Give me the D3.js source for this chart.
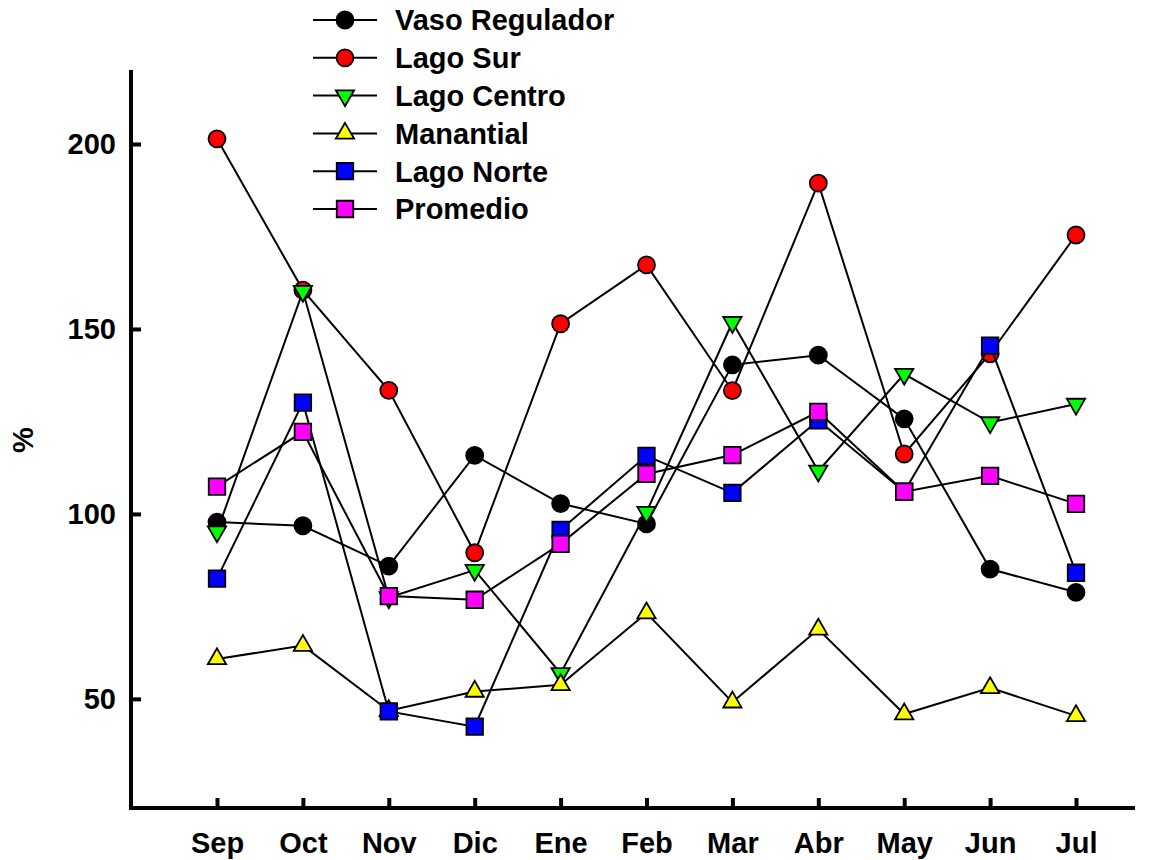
<!DOCTYPE html>
<html>
<head>
<meta charset="utf-8">
<script src="https://cdn.jsdelivr.net/npm/d3@7/dist/d3.min.js"></script>
<style>
  html, body { margin: 0; padding: 0; background: #fff; }
  text { font-family: "Liberation Sans", Arial, sans-serif; font-weight: bold; }
</style>
</head>
<body>
<svg id="chart" width="1157" height="860"></svg>
<script>
const months = ["Sep","Oct","Nov","Dic","Ene","Feb","Mar","Abr","May","Jun","Jul"];
const seriesNames = ["Vaso Regulador","Lago Sur","Lago Centro","Manantial","Lago Norte","Promedio"];
const vasoRegulador = [97.8, 96.8, 85.9, 115.8, 102.8, 97.3, 140.3, 142.9, 125.7, 85.1, 78.8];
const lagoSur       = [201.4, 160.5, 133.4, 89.5, 151.4, 167.3, 133.3, 189.4, 116.2, 143.3, 175.4];
const lagoCentro    = [95.2, 160.2, 77.4, 84.8, 56.9, 100.5, 151.8, 111.6, 137.8, 124.7, 129.7];
const manantial     = [60.8, 64.4, 46.8, 52.0, 53.8, 73.2, 49.1, 68.8, 45.9, 53.0, 45.4];
const lagoNorte     = [82.5, 130.1, 46.6, 42.5, 95.7, 115.7, 105.7, 125.3, 106.0, 145.5, 84.1];
const promedio      = [107.4, 122.2, 77.8, 76.8, 91.9, 110.8, 115.9, 127.6, 106.0, 110.3, 102.7];
const yTicks = [50, 100, 150, 200];
const yLabel = "%";

const seriesValues = [vasoRegulador, lagoSur, lagoCentro, manantial, lagoNorte, promedio];
const colors = ["#000000", "#ff0000", "#00ff00", "#ffff00", "#0000ff", "#ff00ff"];
const shapes = ["circle", "circle", "down", "up", "square", "square"];

const svg = d3.select("#chart");
const FS = 29;

const x = d3.scalePoint().domain(months).range([217, 1076]);
const y = d3.scaleLinear().domain([20.5, 220]).range([808, 70]);
const axisLeftX = 131, axisRightX = 1135;

function symbolPath(shape) {
  if (shape === "circle") return d3.symbol().type(d3.symbolCircle).size(Math.PI * 8.5 * 8.5)();
  if (shape === "square") return d3.symbol().type(d3.symbolSquare).size(16.5 * 16.5)();
  return d3.symbol().type(d3.symbolTriangle).size(145)();
}
function symbolTransform(shape, px, py) {
  return shape === "down" ? `translate(${px},${py}) rotate(180)` : `translate(${px},${py})`;
}

// Axes
const xAxis = d3.axisBottom(x).tickSizeInner(-10).tickSizeOuter(0).tickPadding(24);
const gx = svg.append("g").attr("transform", "translate(0,808)").call(xAxis);
gx.select(".domain").attr("d", `M${axisLeftX},0H${axisRightX}`);
gx.selectAll("path, line").attr("stroke", "#000").attr("stroke-width", 4);
gx.selectAll("text").attr("font-size", FS).attr("fill", "#000").attr("dy", "0.71em");

const yAxis = d3.axisLeft(y).tickValues(yTicks).tickSizeInner(-10).tickSizeOuter(0).tickPadding(15);
const gy = svg.append("g").attr("transform", `translate(${axisLeftX},0)`).call(yAxis);
gy.select(".domain").attr("d", `M0,${y.range()[1]}V${y.range()[0] + 2}`);
gy.selectAll("path, line").attr("stroke", "#000").attr("stroke-width", 4);
gy.selectAll("text").attr("font-size", FS).attr("fill", "#000");

svg.append("text")
  .attr("transform", "translate(33,440) rotate(-90)")
  .attr("text-anchor", "middle")
  .attr("font-size", FS)
  .attr("fill", "#000")
  .text(yLabel);

// Series
const line = d3.line().x((d, i) => x(months[i])).y(d => y(d));
seriesValues.forEach((vals, si) => {
  const g = svg.append("g");
  g.append("path").attr("d", line(vals)).attr("fill", "none")
    .attr("stroke", "#000").attr("stroke-width", 2);
  g.selectAll("path.m").data(vals).enter().append("path").attr("class", "m")
    .attr("d", symbolPath(shapes[si]))
    .attr("transform", (d, i) => symbolTransform(shapes[si], x(months[i]), y(d)))
    .attr("fill", colors[si]).attr("stroke", "#000").attr("stroke-width", 1.8);
});

// Legend
const legendY0 = 20, legendStep = 37.8;
seriesNames.forEach((name, si) => {
  const ly = legendY0 + si * legendStep;
  const g = svg.append("g");
  g.append("line").attr("x1", 313).attr("x2", 377).attr("y1", ly).attr("y2", ly)
    .attr("stroke", "#000").attr("stroke-width", 2);
  g.append("path").attr("d", symbolPath(shapes[si]))
    .attr("transform", symbolTransform(shapes[si], 345, ly))
    .attr("fill", colors[si]).attr("stroke", "#000").attr("stroke-width", 1.8);
  g.append("text").attr("x", 395).attr("y", ly).attr("dy", "0.36em")
    .attr("font-size", FS).attr("fill", "#000").text(name);
});
</script>
</body>
</html>
